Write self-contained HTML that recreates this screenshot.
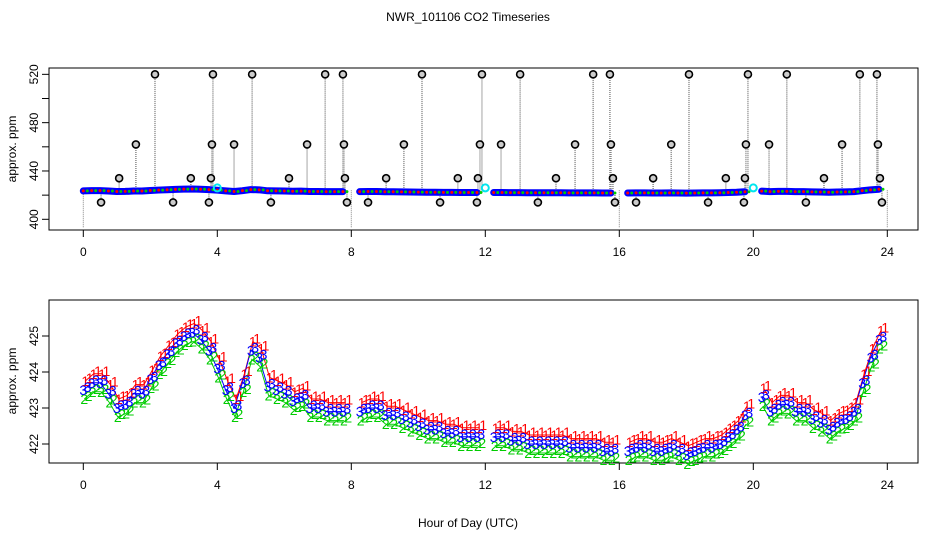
<!DOCTYPE html>
<html><head><meta charset="utf-8"><style>
body{margin:0;background:#fff}
svg{display:block;font-family:"Liberation Sans",Helvetica,sans-serif}
</style></head><body>
<svg id="chart" width="936" height="540" viewBox="0 0 936 540">
<text x="468" y="21" font-size="12" text-anchor="middle">NWR_101106  CO2 Timeseries</text>
<rect x="49" y="68" width="869" height="162" fill="none" stroke="#000"/>
<rect x="49" y="300" width="869" height="163" fill="none" stroke="#000"/>
<text transform="translate(16,149) rotate(-90)" font-size="12" text-anchor="middle">approx. ppm</text>
<text transform="translate(16,381) rotate(-90)" font-size="12" text-anchor="middle">approx. ppm</text>
<text x="468" y="527" font-size="12" text-anchor="middle">Hour of Day (UTC)</text>
<g id="topPanel"></g><g id="botPanel"></g>
</svg>
<script>
const hours=[];for(let i=0;i<96;i++)hours.push(i*0.25);
const base=[423.5,423.7,423.7,423.4,423.0,423.1,423.4,423.4,423.8,424.2,424.5,424.8,425.0,425.1,424.9,424.6,424.1,423.5,423.0,423.7,424.6,424.4,423.6,423.5,423.4,423.2,423.3,423.0,423.0,422.9,422.9,422.9,null,422.9,423.0,423.0,422.8,422.8,422.7,422.6,422.5,422.4,422.4,422.3,422.3,422.2,422.2,422.2,null,422.2,422.2,422.1,422.1,422.0,422.0,422.0,422.0,422.0,421.9,421.9,421.9,421.9,421.8,421.8,null,421.8,421.9,421.9,421.8,421.8,421.9,421.8,421.7,421.8,421.9,421.9,422.0,422.2,422.4,422.8,null,423.3,422.9,423.1,423.1,422.9,422.9,422.7,422.6,422.4,422.6,422.7,422.9,423.7,424.4,424.9];
const series1Offset=0.25, series2Offset=-0.25, series3Offset=0;
const spikeHours=[0.53,1.07,1.57,2.14,2.68,3.21,3.75,3.81,3.84,3.87,4.50,5.04,5.60,6.14,6.68,7.22,7.75,7.78,7.81,7.87,8.50,9.04,9.57,10.11,10.65,11.18,11.75,11.78,11.84,11.90,12.47,13.04,13.57,14.11,14.68,15.22,15.72,15.75,15.81,15.87,16.50,17.01,17.55,18.08,18.65,19.18,19.72,19.75,19.78,19.84,20.47,21.00,21.57,22.11,22.65,23.18,23.69,23.72,23.78,23.84];
const spikeVals=[414,434,462,520,414,434,414,434,462,520,462,520,414,434,462,520,520,462,434,414,414,434,462,520,414,434,414,434,462,520,462,520,414,434,462,520,520,462,434,414,414,434,462,520,414,434,414,434,462,520,462,520,414,434,462,520,520,462,434,414];
const calHours=[4,12,20], calVals=[426,426,426];
const xTicks=[0,4,8,12,16,20,24];
const topYTicks=[400,420,440,460,480,500,520], topYLabels=[400,440,480,520];
const botYTicks=[422,423,424,425];
const NS="http://www.w3.org/2000/svg";
const X=h=>83.3+h*33.5;
const YT=v=>219.3-(v-400)*1.208;
const YB=v=>444-(v-422)*36;
function mk(tag,attrs,parent,txt){const e=document.createElementNS(NS,tag);for(const k in attrs)e.setAttribute(k,attrs[k]);if(txt!=null)e.textContent=txt;parent.appendChild(e);return e;}
const gTop=document.getElementById('topPanel'), gBot=document.getElementById('botPanel');
xTicks.forEach(t=>{
 [[230,gTop],[463,gBot]].forEach(([y0,g])=>{
  const l=mk('line',{x1:X(t),x2:X(t),y1:y0,y2:y0+7,stroke:'#000'},g);
  
  
  const tx=mk('text',{x:X(t),y:y0+26,'font-size':12,'text-anchor':'middle'},g,t);
  
  
 });
});
topYTicks.forEach(v=>{
 const l=mk('line',{x1:42,x2:49,y1:YT(v),y2:YT(v),stroke:'#000'},gTop);
 
 
});
topYLabels.forEach(v=>{
 const t=mk('text',{transform:`translate(38,${YT(v)}) rotate(-90)`,'font-size':12,'text-anchor':'middle'},gTop,v);
 
 
});
botYTicks.forEach(v=>{
 const l=mk('line',{x1:42,x2:49,y1:YB(v),y2:YB(v),stroke:'#000'},gBot);
 
 
 const t=mk('text',{transform:`translate(38,${YB(v)}) rotate(-90)`,'font-size':12,'text-anchor':'middle'},gBot,v);
 
 
});
[0,8,16,24].forEach(h=>{
 const l=mk('line',{x1:X(h),x2:X(h),y1:YT(424),y2:228,stroke:'#888','stroke-dasharray':'1,1'},gTop);
 
 
});
function nearBase(h){let i=Math.round(h/0.25);i=Math.max(0,Math.min(95,i));let v=base[i];let k=1;while(v==null&&k<10){v=base[Math.max(0,i-k)]??base[Math.min(95,i+k)];k++;}return v==null?423:v;}
spikeHours.forEach((h,i)=>{
 const l=mk('line',{x1:X(h),x2:X(h),y1:YT(nearBase(h)),y2:YT(spikeVals[i]),stroke:'#888','stroke-width':1.5,'stroke-dasharray':'1,1'},gTop);
 
 
});
let segs=[],cur=[];
base.forEach((v,i)=>{if(v==null){if(cur.length)segs.push(cur);cur=[];}else cur.push([hours[i],v]);});if(cur.length)segs.push(cur);
segs.forEach(s=>{
 const p=mk('polyline',{points:s.map(([h,v])=>X(h)+','+YT(v)).join(' '),fill:'none',stroke:'#0000ff','stroke-width':7,'stroke-linejoin':'round','stroke-linecap':'round'},gTop);
 
 
});
base.forEach((v,i)=>{if(v==null)return;
 [['#ff0000',0],['#00cc00',0.12]].forEach(([c,dx])=>{
  const d=mk('circle',{cx:X(hours[i]+dx),cy:YT(v),r:1.5,fill:c},gTop);
  
  
 });
});
calHours.forEach((h,i)=>{
 const c=mk('circle',{cx:X(h),cy:YT(calVals[i]),r:3.5,fill:'none',stroke:'#00e5ee','stroke-width':2},gTop);
 
 
});
spikeHours.forEach((h,i)=>{
 const c=mk('circle',{cx:X(h),cy:YT(spikeVals[i]),r:3.5,fill:'#ccc',stroke:'#000','stroke-width':1.6},gTop);
 
 
});
const ser=[[series1Offset,'#ff0000','1',0.06],[series2Offset,'#00cc00','2',0.03],[series3Offset,'#0000ff','3',0]];
ser.forEach(([off,col,lab,dx])=>{
 segs.forEach(s=>{
  const p=mk('polyline',{points:s.map(([h,v])=>X(h+dx)+','+YB(v+off)).join(' '),fill:'none',stroke:col,'stroke-width':1},gBot);
  
  
 });
});
ser.forEach(([off,col,lab,dx])=>{
 base.forEach((v,i)=>{if(v==null)return;
  [[0,0],[0.13,0.08]].forEach(([ex,ey])=>{
   const t=mk('text',{x:X(hours[i]+dx+ex),y:YB(v+off+ey)+5,'font-size':14,fill:col,'text-anchor':'middle'},gBot,lab);
   
   
  });
 });
});
</script>
</body></html>
